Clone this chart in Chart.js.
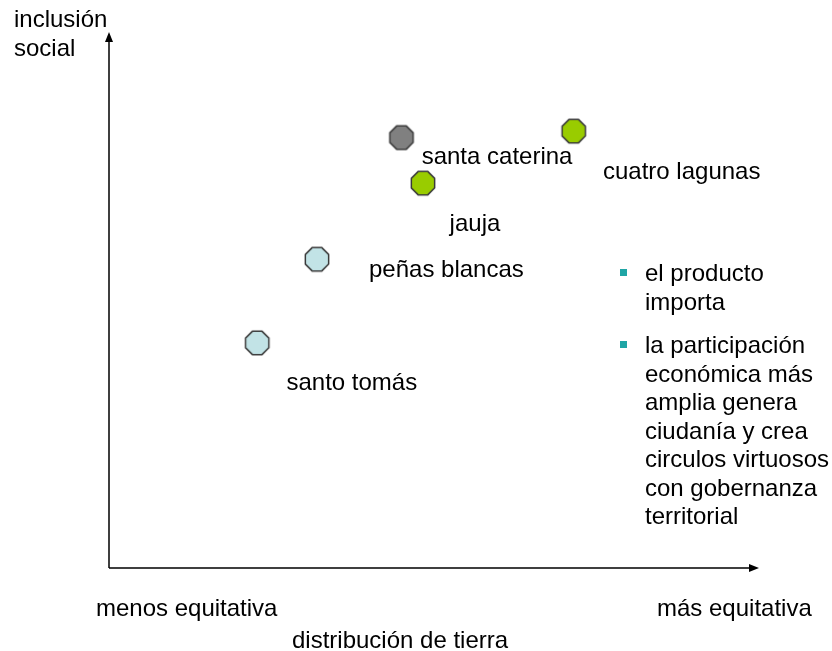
<!DOCTYPE html>
<html>
<head>
<meta charset="utf-8">
<script src="https://cdn.jsdelivr.net/npm/chart.js@4/dist/chart.umd.min.js"></script>
<style>
  body { margin: 0; background: #fff; }
  canvas { display: block; }
</style>
</head>
<body>
<canvas id="chart" width="832" height="651"></canvas>
<script>
// lugares y su posicion en el plano (0-100 en cada eje)
var lugares = ["santa caterina", "cuatro lagunas", "jauja", "peñas blancas", "santo tomás"];
var distribucion = [45.0, 71.5, 48.3, 32.0, 22.8];
var inclusion = [80.3, 81.5, 71.8, 57.6, 42.0];
var colores = ["#808080", "#99cc00", "#99cc00", "#c2e3e6", "#c2e3e6"];
// donde va el nombre de cada lugar (en unidades de los ejes, linea base)
var etiquetaX = [48.1, 76.0, 52.4, 40.0, 27.3];
var etiquetaY = [75.4, 72.6, 62.9, 54.3, 33.2];

var tituloY = ["inclusión", "social"];
var extremosX = ["menos equitativa", "más equitativa"];
var tituloX = "distribución de tierra";
var puntos = [
    ["el producto", "importa"],
    ["la participación", "económica más", "amplia genera", "ciudanía y crea", "circulos virtuosos", "con gobernanza", "territorial"]
];

var fuente = '24px "Liberation Sans", Arial, sans-serif';

function octogono(color) {
    var c = document.createElement('canvas');
    c.width = 28;
    c.height = 28;
    var ctx = c.getContext('2d');
    ctx.beginPath();
    for (var i = 0; i < 8; i++) {
        var a = Math.PI / 8 + i * Math.PI / 4;
        var px = 14 + 12.6 * Math.cos(a);
        var py = 14 + 12.6 * Math.sin(a);
        if (i == 0) ctx.moveTo(px, py); else ctx.lineTo(px, py);
    }
    ctx.closePath();
    ctx.fillStyle = color;
    ctx.fill();
    ctx.lineWidth = 1.5;
    ctx.strokeStyle = "#3a3a3a";
    ctx.stroke();
    return c;
}

var datos = lugares.map(function (l, i) {
    return { x: distribucion[i], y: inclusion[i] };
});

var dibujos = {
    id: 'dibujos',
    afterDatasetsDraw: function (chart) {
        var ctx = chart.ctx;
        var sx = chart.scales.x;
        var sy = chart.scales.y;
        var x0 = sx.getPixelForValue(0);
        var y0 = sy.getPixelForValue(0);
        var x1 = sx.getPixelForValue(100);
        var y1 = sy.getPixelForValue(100);
        ctx.save();
        // ejes con flecha
        ctx.strokeStyle = "#000";
        ctx.fillStyle = "#000";
        ctx.lineWidth = 1.5;
        ctx.beginPath();
        ctx.moveTo(x0, y0);
        ctx.lineTo(x0, y1 + 8);
        ctx.moveTo(x0, y0);
        ctx.lineTo(x1 - 8, y0);
        ctx.stroke();
        ctx.beginPath();
        ctx.moveTo(x0, y1);
        ctx.lineTo(x0 - 4, y1 + 10);
        ctx.lineTo(x0 + 4, y1 + 10);
        ctx.closePath();
        ctx.fill();
        ctx.beginPath();
        ctx.moveTo(x1, y0);
        ctx.lineTo(x1 - 10, y0 - 4);
        ctx.lineTo(x1 - 10, y0 + 4);
        ctx.closePath();
        ctx.fill();

        // nombres de los lugares
        ctx.font = fuente;
        ctx.fillStyle = "#000";
        ctx.textBaseline = "alphabetic";
        ctx.textAlign = "left";
        lugares.forEach(function (l, i) {
            ctx.fillText(l, sx.getPixelForValue(etiquetaX[i]), sy.getPixelForValue(etiquetaY[i]));
        });

        // titulos de los ejes
        ctx.fillText(tituloY[0], 14, 27);
        ctx.fillText(tituloY[1], 14, 56);
        ctx.fillText(extremosX[0], 96, 616);
        ctx.fillText(extremosX[1], 657, 616);
        ctx.fillText(tituloX, 292, 648);

        // lista con vinetas
        var linea = 28.5;
        var y = 281;
        puntos.forEach(function (p) {
            ctx.fillStyle = "#1fa5a5";
            ctx.fillRect(620, y - 12, 7, 7);
            ctx.fillStyle = "#000";
            p.forEach(function (t) {
                ctx.fillText(t, 645, y);
                y += linea;
            });
            y += 15;
        });
        ctx.restore();
    }
};

var canvas = document.getElementById('chart').getContext('2d');
window.grafico = new Chart(canvas, {
    type: "scatter",
    data: {
        datasets: [{
            data: datos,
            pointStyle: colores.map(octogono),
            pointRadius: 13,
            pointHoverRadius: 13
        }]
    },
    options: {
        responsive: false,
        animation: false,
        layout: {
            padding: { left: 109, right: 73, top: 32, bottom: 83 }
        },
        plugins: {
            legend: { display: false },
            tooltip: { enabled: false }
        },
        scales: {
            x: { type: 'linear', min: 0, max: 100, display: false },
            y: { type: 'linear', min: 0, max: 100, display: false }
        }
    },
    plugins: [dibujos]
});
</script>
</body>
</html>
